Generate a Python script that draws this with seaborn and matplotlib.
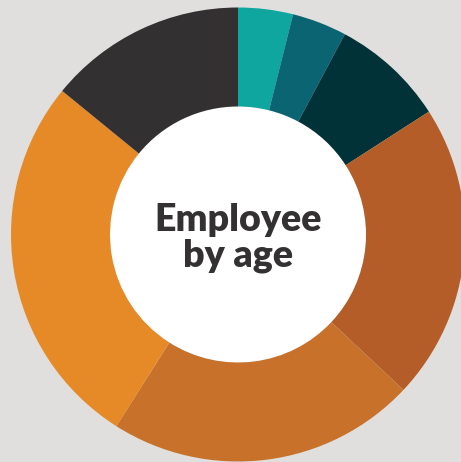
import matplotlib
matplotlib.use("Agg")
import matplotlib.pyplot as plt
import seaborn as sns
from matplotlib.patches import Circle

# Data (percent share, clockwise from top)
categories = ["Group 1", "Group 2", "Group 3", "Group 4", "Group 5", "Group 6", "Group 7"]
values = [3.9, 3.9, 8.1, 21.1, 22.0, 26.9, 14.1]
colors = ["#10a6a0", "#0a6471", "#003238", "#b45d28", "#c8712b", "#e68a28", "#323031"]
title_lines = ["Employee", "by age"]

sns.set_theme(style="white")
plt.rcParams['font.family'] = ['Lato', 'DejaVu Sans']

W, H = 461, 462
fig = plt.figure(figsize=(W / 100, H / 100), dpi=100)
fig.patch.set_facecolor("#e0dfde")
ax = fig.add_axes([0, 0, 1, 1])
ax.set_facecolor("#e0dfde")

palette = sns.color_palette(colors)
wedges, _ = ax.pie(values, labels=None, colors=palette, startangle=90, counterclock=False,
                   radius=1.0, wedgeprops=dict(width=0.436, linewidth=0, edgecolor="none"))
ax.add_patch(Circle((0, 0), 0.564, facecolor="white", edgecolor="none", zorder=0.5))

R = 227.0
cx, cy = 238.0, 234.5
ax.set_xlim(-cx / R, (W - cx) / R)
ax.set_ylim(-(H - cy) / R, cy / R)
ax.set_aspect("auto")
ax.axis("off")

ax.text(0, 0.0154, title_lines[0], ha="center", va="baseline", fontsize=27, fontweight="heavy",
        color="#333132")
ax.text(0, -0.139, title_lines[1], ha="center", va="baseline", fontsize=27, fontweight="heavy",
        color="#333132")

fig.savefig("out.png", dpi=100, facecolor=fig.get_facecolor())
